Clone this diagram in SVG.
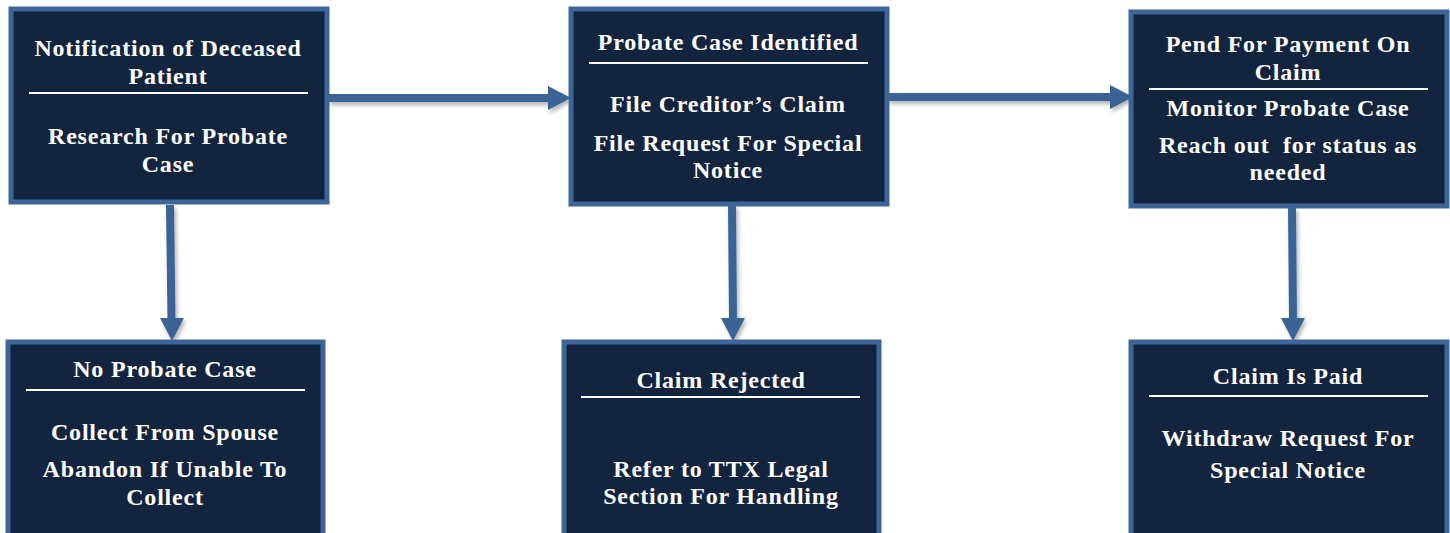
<svg xmlns="http://www.w3.org/2000/svg" width="1450" height="533" viewBox="0 0 1450 533">
<defs>
<style>
.box{fill:#13243f;stroke:#3c6698;stroke-width:5}
.sep{stroke:#ffffff;stroke-width:2}
.t{font-family:"Liberation Serif","DejaVu Serif",serif;font-weight:bold;font-size:24px;letter-spacing:0.8px;fill:#ffffff;text-anchor:middle}
.conn{stroke:#3b6496;stroke-width:8;fill:none}
.head{fill:#3b6496}
</style>
<filter id="sh" x="-10%" y="-50%" width="130%" height="200%">
<feDropShadow dx="2" dy="3" stdDeviation="2" flood-color="#000" flood-opacity="0.3"/>
</filter>
</defs>
<rect width="1450" height="533" fill="#ffffff"/>
<g id="connectors" filter="url(#sh)">
<line class="conn" x1="328" y1="98" x2="550" y2="98"/>
<polygon class="head" points="548,86 571,98 548,110"/>
<line class="conn" x1="888" y1="97" x2="1112" y2="97"/>
<polygon class="head" points="1110,85 1133,97 1110,109"/>
<line class="conn" x1="170" y1="205" x2="171.5" y2="320"/>
<polygon class="head" points="160,318 184,318 172,341"/>
<line class="conn" x1="732" y1="205" x2="733" y2="320"/>
<polygon class="head" points="721,318 745,318 733,341"/>
<line class="conn" x1="1292" y1="208" x2="1293" y2="320"/>
<polygon class="head" points="1281,318 1305,318 1293,341"/>
</g>
<g id="n1">
<rect class="box" x="11" y="9" width="316" height="193"/>
<line class="sep" x1="29" y1="93" x2="308" y2="93"/>
<text class="t" x="168" y="56">Notification of Deceased</text>
<text class="t" x="168" y="84">Patient</text>
<text class="t" x="168" y="144">Research For Probate</text>
<text class="t" x="168" y="172">Case</text>
</g>
<g id="n2">
<rect class="box" x="571" y="9" width="316" height="195"/>
<line class="sep" x1="589" y1="63" x2="868" y2="63"/>
<text class="t" x="728" y="50">Probate Case Identified</text>
<text class="t" x="728" y="112">File Creditor’s Claim</text>
<text class="t" x="728" y="151">File Request For Special</text>
<text class="t" x="728" y="178">Notice</text>
</g>
<g id="n3">
<rect class="box" x="1131" y="12" width="316" height="194"/>
<line class="sep" x1="1149" y1="89" x2="1428" y2="89"/>
<text class="t" x="1288" y="52">Pend For Payment On</text>
<text class="t" x="1288" y="80">Claim</text>
<text class="t" x="1288" y="116">Monitor Probate Case</text>
<text class="t" x="1288" y="153" xml:space="preserve">Reach out  for status as</text>
<text class="t" x="1288" y="180">needed</text>
</g>
<g id="n4">
<rect class="box" x="8" y="342" width="315" height="196"/>
<line class="sep" x1="26" y1="390" x2="305" y2="390"/>
<text class="t" x="165" y="377">No Probate Case</text>
<text class="t" x="165" y="440">Collect From Spouse</text>
<text class="t" x="165" y="477">Abandon If Unable To</text>
<text class="t" x="165" y="505">Collect</text>
</g>
<g id="n5">
<rect class="box" x="564" y="342" width="315" height="196"/>
<line class="sep" x1="581" y1="397" x2="860" y2="397"/>
<text class="t" x="721" y="388">Claim Rejected</text>
<text class="t" x="721" y="477">Refer to TTX Legal</text>
<text class="t" x="721" y="504">Section For Handling</text>
</g>
<g id="n6">
<rect class="box" x="1131" y="342" width="316" height="196"/>
<line class="sep" x1="1149" y1="396" x2="1428" y2="396"/>
<text class="t" x="1288" y="384">Claim Is Paid</text>
<text class="t" x="1288" y="446">Withdraw Request For</text>
<text class="t" x="1288" y="478">Special Notice</text>
</g>
</svg>
